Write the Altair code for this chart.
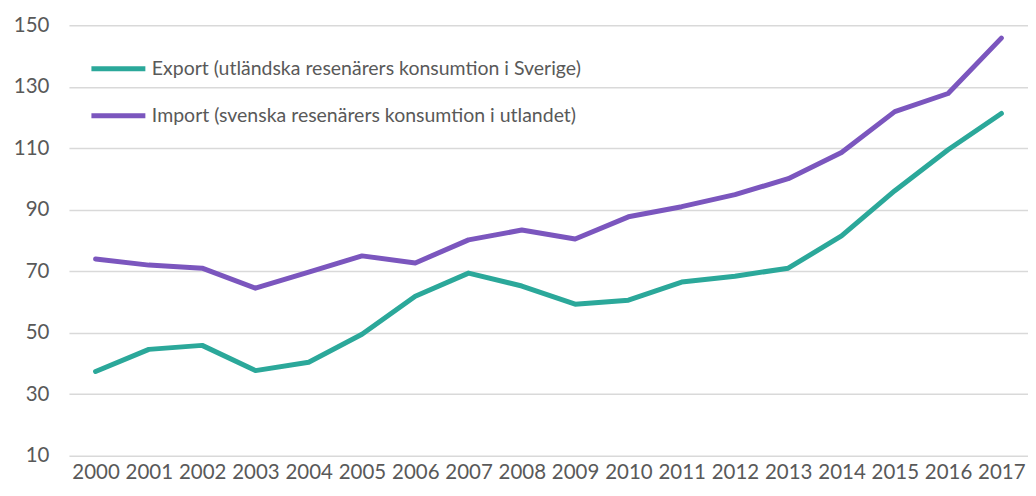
import altair as alt
import pandas as pd

years = [str(y) for y in range(2000, 2018)]
export_vals = [37.4, 44.6, 45.9, 37.7, 40.4, 49.5, 61.9, 69.4, 65.2, 59.3,
               60.6, 66.5, 68.4, 71.0, 81.5, 96.2, 109.5, 121.3]
import_vals = [74.0, 72.0, 71.0, 64.5, 69.7, 75.0, 72.7, 80.2, 83.4, 80.5,
               87.7, 91.0, 94.9, 100.1, 108.6, 121.9, 127.8, 145.8]
series = ["Export (utländska resenärers konsumtion i Sverige)",
          "Import (svenska resenärers konsumtion i utlandet)"]
colors = ["#2BA89A", "#7B56BE"]
y_ticks = [10, 30, 50, 70, 90, 110, 130, 150]

rows = []
for y, v in zip(years, export_vals):
    rows.append({"year": y, "value": v, "series": series[0]})
for y, v in zip(years, import_vals):
    rows.append({"year": y, "value": v, "series": series[1]})
df = pd.DataFrame(rows)

FONT = "Lato"
GRAY = "#595959"

chart = alt.Chart(df).mark_line(strokeWidth=5, strokeCap="round", strokeJoin="round").encode(
    x=alt.X("year:O", title=None, sort=years,
            scale=alt.Scale(type="point", padding=0.5),
            axis=alt.Axis(labelAngle=0, ticks=False, domain=False, grid=False,
                          labelFont=FONT, labelFontSize=20.5, labelColor=GRAY,
                          labelPadding=7)),
    y=alt.Y("value:Q", title=None,
            scale=alt.Scale(domain=[10, 150], nice=False, zero=False),
            axis=alt.Axis(values=y_ticks, ticks=False, domain=False,
                          gridColor="#D9D9D9", gridWidth=1.5,
                          labelFont=FONT, labelFontSize=20.5, labelColor=GRAY,
                          labelPadding=20)),
    color=alt.Color("series:N", sort=series, title=None,
                    scale=alt.Scale(domain=series, range=colors),
                    legend=alt.Legend(orient="none", legendX=20, legendY=14,
                                      symbolType="stroke", symbolSize=2916,
                                      symbolStrokeWidth=5,
                                      labelFont=FONT, labelFontSize=19.5,
                                      labelColor=GRAY, labelOffset=4,
                                      labelLimit=600, rowPadding=7,
                                      padding=0)),
).properties(
    width=960, height=431,
    padding={"left": 5, "top": 7, "right": 0, "bottom": 0},
).configure_view(stroke=None)

chart.save("out.html", embed_options={"renderer": "svg", "actions": False})
